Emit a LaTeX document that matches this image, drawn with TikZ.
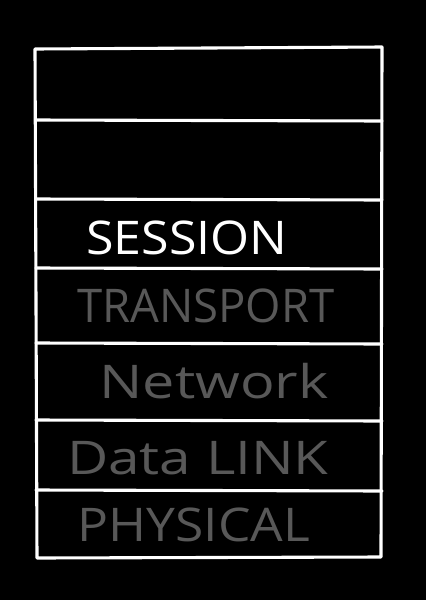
\documentclass[tikz,border=0pt]{standalone}
\usepackage{fontspec}
\setmainfont{Open Sans}
\usetikzlibrary{calc}

\tikzset{
    layer/.style={font=\fontsize{33}{33}\selectfont, inner sep=0pt, anchor=center, transform shape},
    active/.style={layer, white},
    dim/.style={layer, text=dimgray},
    chalk/.style={white, line width=2.2pt, line cap=round, line join=round}
}
\definecolor{dimgray}{RGB}{88,88,88}

\begin{document}
\begin{tikzpicture}[x=0.025cm,y=-0.025cm]
            \fill[black] (0,0) rectangle (426,600);
            \useasboundingbox (0,0) rectangle (426,600);
            % outer frame
            \draw[chalk] (35,49)--(382,47)--(381,557)--(37,558)--cycle;
            % layer dividers
            \foreach \y in {120,199,268,343,420,490}{
                \draw[chalk] (36,\y)--(382,\y+1);
            }
            \node[active, xscale=1.08] (session) at (187,238) {SESSION};
            \node[dim, xscale=0.98] (transport) at (206,306) {TRANSPORT};
            \node[dim, xscale=1.24] (network) at (214,381) {Network};
            \node[dim, xscale=1.22] (datalink) at (198,458) {Data LINK};
            \node[dim, xscale=1.11] (physical) at (194,525) {PHYSICAL};
        \end{tikzpicture}
\end{document}
